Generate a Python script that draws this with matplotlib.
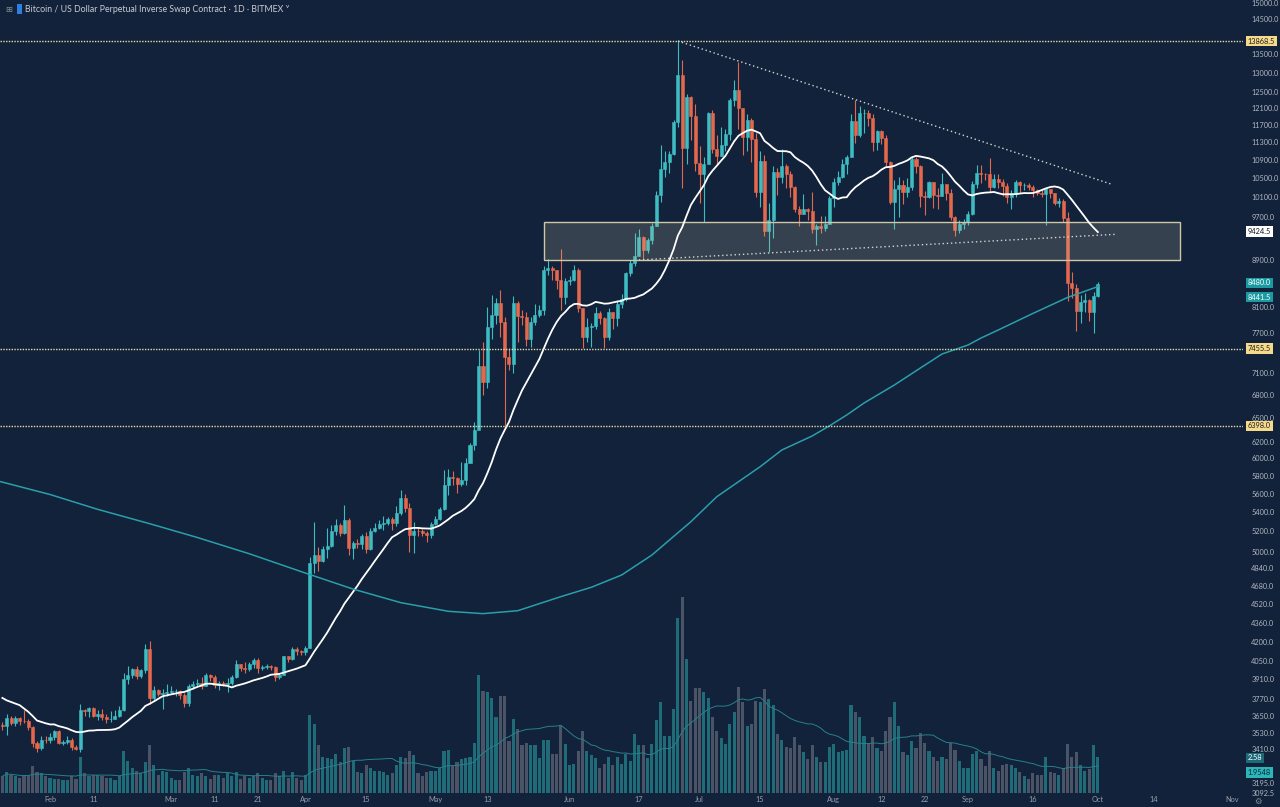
import numpy as np
import pandas as pd
import matplotlib
matplotlib.use("Agg")
import matplotlib.pyplot as plt
import matplotlib.dates as mdates
import matplotlib.transforms as mtransforms
from matplotlib.patches import Rectangle
from matplotlib.ticker import NullLocator

BG = "#11223a"
UP = "#3dbcc2"
DOWN = "#e4684d"
VOL_UP = "#1f6c78"
VOL_DOWN = "#4b5366"

# closes Jan 2 - Jan 20 2019 (left of the visible range, only feed the 20 day average)
pre_close = [3985, 3835, 3865, 3835, 4085, 4035, 4045, 4055, 3675, 3675,
             3655, 3545, 3705, 3615, 3655, 3695, 3645, 3735, 3585]

first_day = "2019-01-21"

close = [
    # Jan 21-31
    3581, 3635, 3602, 3635, 3613, 3611, 3575, 3470, 3435, 3490, 3485,
    # Feb
    3505, 3545, 3470, 3475, 3490, 3440, 3430, 3690, 3680, 3705,
    3650, 3660, 3640, 3625, 3630, 3650, 3690, 3915, 3945, 3985,
    3935, 3980, 4145, 3775, 3835, 3805, 3810, 3815,
    # Mar
    3825, 3825, 3795, 3740, 3865, 3875, 3885, 3865, 3945, 3925,
    3870, 3885, 3875, 3885, 3925, 4025, 3995, 3985, 4025, 4055,
    3995, 4005, 4015, 4005, 3925, 3945, 4085, 4065, 4145, 4125, 4120,
    # Apr
    4150, 4890, 4970, 4910, 5030, 5060, 5210, 5270, 5180, 5320,
    5040, 5080, 5070, 5150, 5030, 5210, 5240, 5280, 5290, 5330,
    5290, 5390, 5550, 5440, 5160, 5210, 5200, 5180, 5160, 5280,
    # May
    5330, 5430, 5700, 5790, 5770, 5710, 5750, 5950, 6160, 6350,
    7210, 6980, 7790, 7970, 8170, 7870, 7340, 7230, 8170, 7960,
    7950, 7600, 7870, 7980, 8050, 8730, 8760, 8720, 8560, 8260, 8540,
    # Jun
    8560, 8720, 8080, 7640, 7780, 7800, 8000, 7920, 7630, 8020,
    7930, 8160, 8230, 8680, 8850, 8980, 9320, 9080, 9270, 9530,
    10150, 10690, 10850, 11030, 11760, 12950, 11150, 12370, 11900, 10820,
    # Jul
    10580, 10800, 11980, 11140, 10970, 11220, 11480, 12290, 12560, 12090,
    11400, 11800, 11360, 10220, 10860, 9440, 9650, 10640, 10530, 10750,
    10580, 10310, 9860, 9760, 9860, 9820, 9480, 9530, 9490, 9580, 10080,
    # Aug
    10410, 10520, 10800, 10960, 11790, 11460, 11980, 11990, 11870, 11290,
    11540, 11390, 10840, 10000, 10270, 10350, 10210, 10320, 10920, 10760,
    10120, 10110, 10410, 10140, 10130, 10370, 10180, 9700, 9460, 9570, 9610,
    # Sep
    9760, 10380, 10620, 10590, 10580, 10320, 10490, 10410, 10330, 10110,
    10160, 10420, 10360, 10360, 10310, 10260, 10190, 10160, 10270, 10180,
    9990, 10030, 9680, 8510, 8420, 8040, 8180, 8210, 8030, 8280,
    # Oct 1
    8480,
]

high = [
    3610, 3660, 3650, 3650, 3640, 3690, 3625, 3580, 3480, 3510, 3515,
    3530, 3555, 3550, 3490, 3510, 3500, 3455, 3730, 3700, 3710,
    3710, 3690, 3700, 3660, 3680, 3690, 3720, 3960, 4010, 4000,
    4010, 3990, 4180, 4210, 3860, 3840, 3840, 3880,
    3860, 3840, 3830, 3810, 3880, 3900, 3910, 3930, 3960, 3950,
    3940, 3900, 3900, 3920, 3940, 4060, 4030, 4040, 4040, 4070,
    4070, 4020, 4030, 4020, 4010, 3960, 4090, 4090, 4160, 4160, 4140,
    4170, 4950, 5300, 5050, 5060, 5240, 5270, 5330, 5290, 5480,
    5340, 5100, 5120, 5170, 5190, 5240, 5290, 5320, 5360, 5350,
    5350, 5470, 5640, 5600, 5500, 5300, 5250, 5230, 5200, 5300,
    5360, 5450, 5860, 5880, 5850, 5790, 5960, 6000, 6180, 6450,
    7440, 7550, 8100, 8300, 8250, 8380, 7950, 7460, 8290, 8200,
    8050, 8030, 7950, 8150, 8140, 8800, 8930, 8800, 8730, 9100, 8580,
    8620, 8810, 8770, 8090, 7920, 7850, 8100, 8040, 7950, 8080,
    8030, 8220, 8320, 8700, 8900, 9400, 9470, 9340, 9310, 9600,
    10240, 11230, 11100, 11100, 11800, 13868.5, 13340, 12450, 12400, 12200,
    11200, 10950, 12000, 12050, 11450, 11650, 11600, 12340, 12800, 13290,
    12100, 11950, 11850, 11500, 11100, 11000, 9990, 10760, 10720, 11130,
    10800, 10660, 10340, 9920, 10170, 9880, 10200, 9570, 9720, 9720, 10120,
    10500, 10650, 10920, 11000, 11950, 12300, 12150, 12070, 12050, 11950,
    11580, 11580, 11450, 10860, 10450, 10520, 10460, 10500, 10950, 10950,
    10780, 10230, 10440, 10420, 10300, 10600, 10380, 10280, 9720, 9650, 9670,
    9820, 10440, 10790, 10780, 10620, 10930, 10580, 10580, 10490, 10390,
    10250, 10460, 10440, 10400, 10390, 10360, 10280, 10270, 10300, 10260,
    10180, 10090, 10060, 9800, 8700, 8480, 8300, 8330, 8230, 8350,
    8520,
]

low = [
    3550, 3520, 3590, 3580, 3590, 3600, 3550, 3440, 3410, 3420, 3470,
    3465, 3490, 3460, 3455, 3460, 3425, 3420, 3410, 3650, 3640,
    3640, 3620, 3620, 3600, 3610, 3630, 3640, 3680, 3880, 3920,
    3910, 3920, 3960, 3730, 3760, 3790, 3700, 3790,
    3810, 3790, 3770, 3710, 3720, 3840, 3860, 3840, 3860, 3900,
    3850, 3830, 3860, 3820, 3870, 3920, 3970, 3960, 3970, 4000,
    3960, 3980, 3990, 3980, 3900, 3910, 3940, 4040, 4060, 4100, 4100,
    4100, 4150, 4800, 4820, 4900, 4940, 5050, 5160, 5150, 5170,
    4970, 4930, 5040, 5030, 4990, 5020, 5190, 5230, 5220, 5270,
    5220, 5260, 5370, 5400, 5000, 4990, 5150, 5150, 5090, 5130,
    5270, 5320, 5420, 5580, 5700, 5610, 5680, 5700, 5950, 6100,
    6340, 6800, 6900, 7600, 7840, 7640, 6398, 7150, 7100, 7550,
    7820, 7500, 7480, 7820, 7940, 7970, 8640, 8560, 8400, 8050, 8150,
    8460, 8530, 8020, 7460, 7560, 7480, 7760, 7830, 7470, 7580,
    7760, 7800, 8080, 8200, 8620, 8800, 8970, 8930, 9030, 9200,
    9530, 10000, 10530, 10600, 11000, 11650, 10300, 10800, 11350, 10650,
    9990, 9620, 10800, 11050, 10800, 10990, 11100, 11350, 12150, 11600,
    11000, 11100, 10850, 10100, 9900, 9350, 9040, 9300, 10150, 10400,
    10300, 10100, 9810, 9540, 9760, 9650, 9400, 9180, 9400, 9440, 9570,
    9900, 10350, 10500, 10580, 10960, 11280, 11400, 11500, 11660, 11100,
    11120, 11250, 10770, 9960, 9470, 9700, 9970, 10100, 10260, 10600,
    9900, 9750, 10080, 9880, 9870, 10130, 10050, 9650, 9340, 9400, 9480,
    9560, 9750, 10300, 10400, 10460, 10200, 10300, 10300, 10130, 9980,
    9860, 10110, 10180, 10260, 10250, 10100, 10150, 10110, 9550, 10080,
    9940, 9900, 9620, 8200, 8250, 7720, 7850, 8030, 7880, 7700,
    8270,
]

# volume in billions of contracts
volume = [
    1.2, 1.5, 1.3, 1.2, 1.1, 1.2, 1.2, 1.9, 1.5, 1.4, 1.2,
    1.1, 1.0, 1.0, 0.9, 0.9, 1.2, 1.0, 2.6, 1.4, 1.2,
    1.3, 1.3, 1.2, 1.1, 1.1, 0.9, 1.2, 3.0, 2.3, 1.8,
    1.6, 1.4, 2.2, 3.4, 2.0, 1.3, 1.6, 1.5,
    1.1, 0.9, 0.9, 1.5, 1.8, 1.3, 1.2, 1.4, 1.2, 1.0,
    1.3, 1.3, 1.1, 1.4, 1.2, 1.5, 1.0, 1.2, 1.1, 1.2,
    1.4, 1.1, 0.9, 0.9, 1.4, 1.2, 1.6, 1.1, 1.5, 1.1, 0.9,
    1.3, 5.6, 4.9, 3.4, 2.6, 2.5, 2.4, 2.8, 2.2, 3.2,
    3.3, 2.3, 1.5, 1.4, 2.0, 1.8, 1.6, 1.6, 1.5, 1.3,
    1.4, 2.0, 2.6, 2.5, 3.0, 2.7, 1.4, 1.2, 1.5, 1.6,
    1.6, 1.8, 3.0, 3.1, 1.9, 2.2, 2.4, 2.5, 2.6, 3.6,
    8.4, 7.3, 7.2, 6.8, 5.4, 6.9, 6.9, 3.7, 5.3, 4.6,
    3.4, 3.6, 3.4, 3.4, 2.5, 3.8, 3.8, 2.8, 2.8, 4.8, 3.5,
    2.0, 2.1, 3.0, 4.4, 3.0, 2.7, 2.5, 1.8, 2.1, 2.6,
    2.0, 2.6, 2.1, 2.8, 2.3, 4.2, 3.4, 3.4, 2.5, 3.5,
    5.2, 6.5, 4.1, 4.1, 6.0, 12.5, 14.0, 9.6, 6.6, 7.5,
    7.5, 7.2, 6.8, 5.4, 4.4, 3.9, 3.5, 4.9, 5.8, 7.6,
    6.5, 4.8, 4.9, 6.6, 6.5, 7.4, 6.7, 6.3, 4.2, 3.8,
    3.3, 3.2, 4.0, 3.4, 2.9, 2.4, 3.4, 2.6, 2.2, 2.2, 3.3,
    3.5, 2.9, 3.0, 3.1, 6.3, 5.8, 5.4, 4.1, 3.6, 4.0,
    3.2, 3.0, 4.4, 5.4, 6.5, 4.8, 2.9, 2.7, 3.7, 3.2,
    4.3, 3.6, 3.0, 2.6, 2.3, 2.6, 2.4, 3.6, 3.1, 2.3, 1.8,
    1.8, 2.8, 3.0, 2.4, 1.9, 3.0, 1.8, 1.6, 2.0, 2.1,
    2.0, 1.8, 1.5, 1.2, 1.0, 1.4, 1.3, 1.3, 2.6, 1.5,
    1.4, 1.3, 1.8, 3.5, 2.6, 2.9, 2.0, 1.6, 1.7, 3.4,
    2.58,
]

# 200 day average
ma200_dates = ["2019-01-20", "2019-02-01", "2019-02-12", "2019-02-24", "2019-03-07",
               "2019-03-19", "2019-03-31", "2019-04-12", "2019-04-23", "2019-05-04",
               "2019-05-12", "2019-05-20", "2019-05-30", "2019-06-06", "2019-06-13",
               "2019-06-20", "2019-06-29", "2019-07-05", "2019-07-15", "2019-07-20",
               "2019-07-27", "2019-07-31", "2019-08-04", "2019-08-08", "2019-08-15",
               "2019-08-21", "2019-08-26", "2019-09-01", "2019-09-04", "2019-09-08",
               "2019-09-16", "2019-09-24", "2019-10-01"]
ma200_values = [5740, 5590, 5430, 5280, 5140, 4980, 4810, 4650, 4530, 4455,
                4435, 4460, 4583, 4666, 4778, 4967, 5300, 5566, 5903, 6100,
                6271, 6398, 6537, 6694, 6937, 7175, 7378, 7511, 7616, 7740,
                8000, 8260, 8441.5]

levels = [13868.5, 7455.5, 6398.0]
down_trend = (["2019-06-26", "2019-10-04"], [13868.5, 10376])
up_trend = (["2019-06-17", "2019-10-05"], [8905, 9375])
zone_dates = ["2019-05-26", "2019-10-20"]
zone_prices = [8905, 9616]

price_ticks = [15000, 14500, 13500, 13000, 12500, 12100, 11700, 11300, 10900,
               10500, 10100, 9700, 8900, 8100, 7700, 7100, 6800,
               6500, 6200, 6000, 5800, 5600, 5400, 5200, 5000, 4840, 4680, 4520,
               4360, 4200, 4050, 3910, 3770, 3650, 3530]
# the lowest scale labels, placed by pixel row as in the picture
bottom_labels = [("3410.0", 750), ("3195.0", 783), ("3092.5", 793)]

date_ticks = ["2019-02-01", "2019-02-11", "2019-03-01", "2019-03-11", "2019-03-21",
              "2019-04-01", "2019-04-15", "2019-05-01", "2019-05-13", "2019-06-01",
              "2019-06-17", "2019-07-01", "2019-07-15", "2019-08-01", "2019-08-12",
              "2019-08-22", "2019-09-01", "2019-09-16", "2019-10-01", "2019-10-14",
              "2019-11-01"]
date_labels = ["Feb", "11", "Mar", "11", "21", "Apr", "15", "May", "13", "Jun", "17",
               "Jul", "15", "Aug", "12", "22", "Sep", "16", "Oct", "14", "Nov"]

# price axis tags: value, text, box colour, text colour, vertical nudge (points)
price_tags = [
    (13868.5, "13868.5", "#f6da8c", "#1a1a1a", 0),
    (9424.5, "9424.5", "#ffffff", "#131722", 0),
    (8480.0, "8480.0", "#1c9aa1", "#ffffff", 1.0),
    (8441.5, "8441.5", "#1c9aa1", "#ffffff", -7.5),
    (7455.5, "7455.5", "#f6da8c", "#1a1a1a", 0),
    (6398.0, "6398.0", "#f6da8c", "#1a1a1a", 0),
]
volume_tags = [
    (2.58, "2.58", "#1d6b7a", "#ffffff", -0.8),
    (1.9548, "1.9548", "#2bb7b9", "#0d2030", -5.0),
]


def fwd(p):
    return np.log(np.maximum(np.asarray(p, dtype=float) - 350.0, 1e-6))


def inv(v):
    return np.exp(v) + 350.0


plt.rcParams["font.family"] = ["Lato", "DejaVu Sans"]

days = pd.date_range(first_day, periods=len(close), freq="D")
pre_days = pd.date_range(end=pd.Timestamp(first_day) - pd.Timedelta(days=1),
                         periods=len(pre_close), freq="D")
x = mdates.date2num(days)

opens = [pre_close[-1]] + close[:-1]
is_up = [c >= o for o, c in zip(opens, close)]

all_close = pd.Series(pre_close + close, index=pre_days.append(days))
sma20 = all_close.rolling(20).mean()
vol_ma = pd.Series(volume).rolling(20, min_periods=1).mean()

fig = plt.figure(figsize=(12.8, 8.07), dpi=100, facecolor=BG)
ax = fig.add_axes([0.0, 14 / 807, 1243 / 1280, 793 / 807])
ax_vol = ax.twinx()
ax.set_zorder(ax_vol.get_zorder() + 1)
ax.patch.set_visible(False)
ax_vol.patch.set_facecolor(BG)

# volume overlay
vol_colors = [VOL_UP if u else VOL_DOWN for u in is_up]
ax_vol.bar(x, volume, width=0.72, color=vol_colors, linewidth=0)
ax_vol.plot(x, vol_ma, color="#27818c", lw=0.7)
ax_vol.set_ylim(0, 793 / 14)
ax_vol.set_yticks([])

# candles
ax.set_yscale("function", functions=(fwd, inv))
colors = [UP if u else DOWN for u in is_up]
ax.vlines(x, low, high, colors=colors, lw=0.8, zorder=2)
bottoms = [min(o, c) for o, c in zip(opens, close)]
heights = [abs(c - o) for o, c in zip(opens, close)]
ax.bar(x, heights, bottom=bottoms, width=0.7, color=colors,
       edgecolor=colors, linewidth=0.4, zorder=2)

# zone
zx = mdates.date2num(pd.to_datetime(zone_dates))
ax.add_patch(Rectangle((zx[0], zone_prices[0]), zx[1] - zx[0], zone_prices[1] - zone_prices[0],
                       facecolor="#c9c2a2", alpha=0.2, edgecolor="none", zorder=3))
ax.add_patch(Rectangle((zx[0], zone_prices[0]), zx[1] - zx[0], zone_prices[1] - zone_prices[0],
                       facecolor="none", edgecolor="#cfc8a6", lw=1.0, zorder=3))

# moving averages
ax.plot(mdates.date2num(all_close.index), sma20.values, color="white", lw=1.3, zorder=4)
ax.plot(mdates.date2num(pd.to_datetime(ma200_dates)), ma200_values,
        color="#2b9eab", lw=1.1, zorder=4)

# levels and trend lines
for lv in levels:
    ax.axhline(lv, color="#e8dba9", lw=1.0, ls=(0, (1, 1)), zorder=4)
for dts, pr in (down_trend, up_trend):
    ax.plot(mdates.date2num(pd.to_datetime(dts)), pr, color="#d5d5d5",
            lw=1.0, ls=(0, (1, 2)), zorder=4)

ax.set_xlim(mdates.date2num(pd.Timestamp("2019-02-01")) - 50 / 4.33,
            mdates.date2num(pd.Timestamp("2019-02-01")) + 1193 / 4.33)
ax.set_ylim(3158, 15078)

ax.yaxis.tick_right()
ax.set_yticks(price_ticks)
ax.set_yticklabels([f"{t:.1f}" for t in price_ticks])
ax.yaxis.set_minor_locator(NullLocator())
ax.tick_params(axis="y", length=0, pad=6, labelsize=5.3, labelcolor="#b4b7c0")
ax.set_xticks(mdates.date2num(pd.to_datetime(date_ticks)))
ax.set_xticklabels(date_labels)
ax.tick_params(axis="x", length=0, pad=2.5, labelsize=5.3, labelcolor="#9a9da6")
for a in (ax, ax_vol):
    for s in a.spines.values():
        s.set_visible(False)
ax_vol.tick_params(axis="x", length=0, labelbottom=False)

# tags on the price scale
ptrans = mtransforms.blended_transform_factory(ax.transAxes, ax.transData)
for val, txt, bg, fg, dy in price_tags:
    ax.annotate(txt, xy=(1.0, val), xycoords=ptrans, xytext=(3.5, dy),
                textcoords="offset points", ha="left", va="center", fontsize=5.3,
                color=fg, annotation_clip=False, zorder=6,
                bbox=dict(boxstyle="square,pad=0.25", fc=bg, ec="none"))
vtrans = mtransforms.blended_transform_factory(ax_vol.transAxes, ax_vol.transData)
for val, txt, bg, fg, dy in volume_tags:
    ax_vol.annotate(txt, xy=(1.0, val), xycoords=vtrans, xytext=(3.5, dy),
                    textcoords="offset points", ha="left", va="center", fontsize=5.3,
                    color=fg, annotation_clip=False, zorder=6,
                    bbox=dict(boxstyle="square,pad=0.25", fc=bg, ec="none"))

for txt, row in bottom_labels:
    fig.text(1252 / 1280, 1 - row / 807, txt, fontsize=5.3, color="#b4b7c0",
             ha="left", va="center")
fig.text(1258 / 1280, 1 - 801 / 807, "\u2699", fontsize=6, color="#8a8d96",
         ha="center", va="center", family=["DejaVu Sans"])

# header
fig.text(5 / 1280, 1 - 9 / 807, "\u229e", fontsize=6, color="#8a8d96",
         ha="left", va="center", family=["DejaVu Sans"])
fig.patches.append(Rectangle((17 / 1280, 1 - 14 / 807), 5 / 1280, 10 / 807,
                             transform=fig.transFigure, facecolor="#2f7fe0",
                             edgecolor="none"))
fig.text(25 / 1280, 1 - 9 / 807,
         "Bitcoin / US Dollar Perpetual Inverse Swap Contract \u00b7 1D \u00b7 BITMEX \u02c5",
         fontsize=6.3, color="#c9ccd4", ha="left", va="center")

fig.savefig("out.png", dpi=100, facecolor=BG)
